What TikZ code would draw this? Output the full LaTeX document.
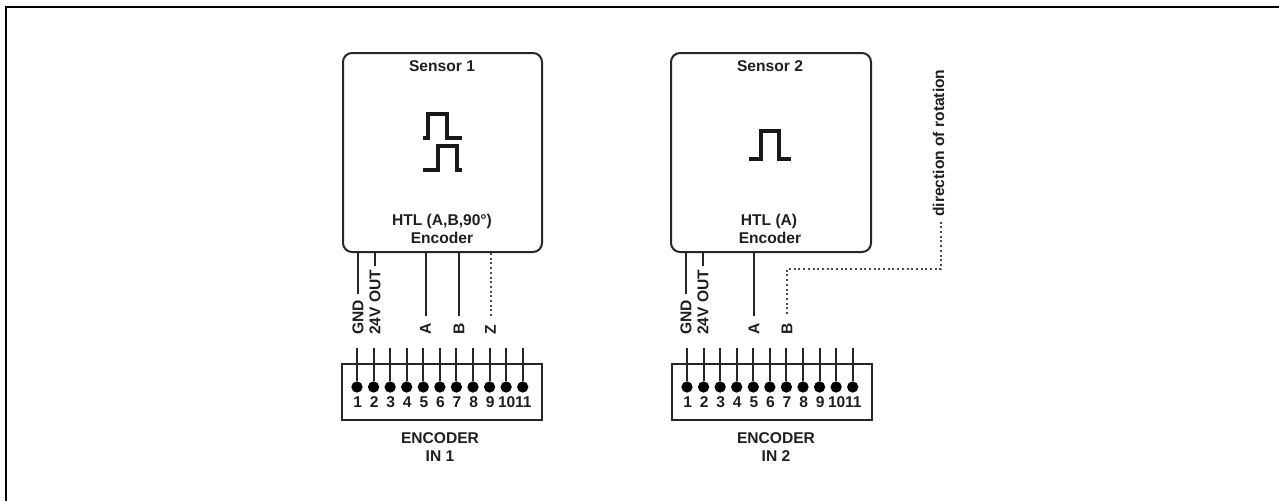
\documentclass[tikz,border=0pt]{standalone}
\usepackage{fontspec}
\setmainfont{Liberation Sans}
\begin{document}
\begin{tikzpicture}[x=1pt,y=-1pt,
  lab/.style={inner sep=0pt,font=\fontsize{15.6}{17}\selectfont\bfseries,text=black!88},
  numlab/.style={lab,font=\fontsize{15.6}{17}\selectfont\bfseries},
  vlab/.style={lab,rotate=90,anchor=west},
  wire/.style={line width=2pt,black!85},
  dotwire/.style={line width=2pt,black!70,dash pattern=on 2pt off 2.7pt},
  boxline/.style={draw=black!85,line width=2pt},
  pulse/.style={line width=3.6pt,black!90,line join=miter},
  pin/.style={circle,fill=black,inner sep=0pt,minimum size=11.3pt}]
\useasboundingbox (0,0) rectangle (1279,501);
\coordinate (fa) at (6,501);
\coordinate (fb) at (6,7);
\coordinate (fc) at (1279,7);
\draw[line width=2.2pt,black] (fa) -- (fb) -- (fc);
% Sensor boxes
\node[boxline,rounded corners=9pt,minimum width=199pt,minimum height=199pt,inner sep=0pt,anchor=north west] (s1) at (342,52) {};
\node[boxline,rounded corners=9pt,minimum width=200pt,minimum height=199pt,inner sep=0pt,anchor=north west] (s2) at (670,52) {};
\node[lab] (s1t) at (442,66) {Sensor 1};
\node[lab] (s2t) at (770,66) {Sensor 2};
\node[lab] (s1h) at (442,221) {HTL (A,B,90°)};
\node[lab] (s1e) at (442,238) {Encoder};
\node[lab] (s2h) at (769,221) {HTL (A)};
\node[lab] (s2e) at (770,238) {Encoder};
% Pulses
\draw[pulse] (423,138) -- (428,138) -- (428,114) -- (447,114) -- (447,138) -- (462,138);
\draw[pulse] (423,170) -- (438,170) -- (438,146) -- (457,146) -- (457,170) -- (462,170);
\draw[pulse] (749,159) -- (761,159) -- (761,131) -- (779,131) -- (779,159) -- (791,159);
% Terminal boxes
\node[boxline,minimum width=200pt,minimum height=56pt,inner sep=0pt,anchor=north west] (t1) at (341,363) {};
\node[boxline,minimum width=200pt,minimum height=56pt,inner sep=0pt,anchor=north west] (t2) at (671,363) {};
\foreach \i in {1,...,11}{
  \pgfmathsetmacro{\xa}{357+(\i-1)*16.57}
  \pgfmathsetmacro{\xb}{687+(\i-1)*16.57}
  \coordinate (a\i) at (\xa,348);
  \coordinate (b\i) at (\xb,348);
  \node[pin] (pa\i) at (\xa,387) {};
  \node[pin] (pb\i) at (\xb,387) {};
  \draw[wire] (a\i) -- (pa\i);
  \draw[wire] (b\i) -- (pb\i);
  \node[numlab] (na\i) at (\xa+0.6,402.5) {\i};
  \node[numlab] (nb\i) at (\xb+0.6,402.5) {\i};
}
\node[lab] (t1a) at (440,438) {ENCODER};
\node[lab] (t1b) at (440,456) {IN 1};
\node[lab] (t2a) at (776,438) {ENCODER};
\node[lab] (t2b) at (776,456) {IN 2};
% Vertical labels
\node[vlab] (g1) at (358,335) {GND};
\node[vlab] (v1) at (375,335) {24V OUT};
\node[vlab] (la) at (425.5,335) {A};
\node[vlab] (lb) at (459,335) {B};
\node[vlab] (lz) at (490.5,335) {Z};
\node[vlab] (g2) at (686,335) {GND};
\node[vlab] (v2) at (703,335) {24V OUT};
\node[vlab] (la2) at (754,335) {A};
\node[vlab] (lb2) at (787,335) {B};
\node[vlab] (dir) at (938.5,217) {direction of rotation};
% Wires
\draw[wire] (s1.south west -| g1) -- ++(0,41);
\draw[wire] (s1.south west -| v1) -- ++(0,13);
\draw[wire] (s1.south west -| la) -- ++(0,63);
\draw[wire] (s1.south west -| lb) -- ++(0,63);
\draw[dotwire] (s1.south west -| lz) -- ++(0,63);
\draw[wire] (s2.south west -| g2) -- ++(0,41);
\draw[wire] (s2.south west -| v2) -- ++(0,13);
\draw[wire] (s2.south west -| la2) -- ++(0,63);
\coordinate (bt) at (787,314);
\coordinate (dr) at (941,269);
\coordinate (dt) at (941,222);
\draw[dotwire] (bt) |- (dr) -- (dt);
\end{tikzpicture}
\end{document}
